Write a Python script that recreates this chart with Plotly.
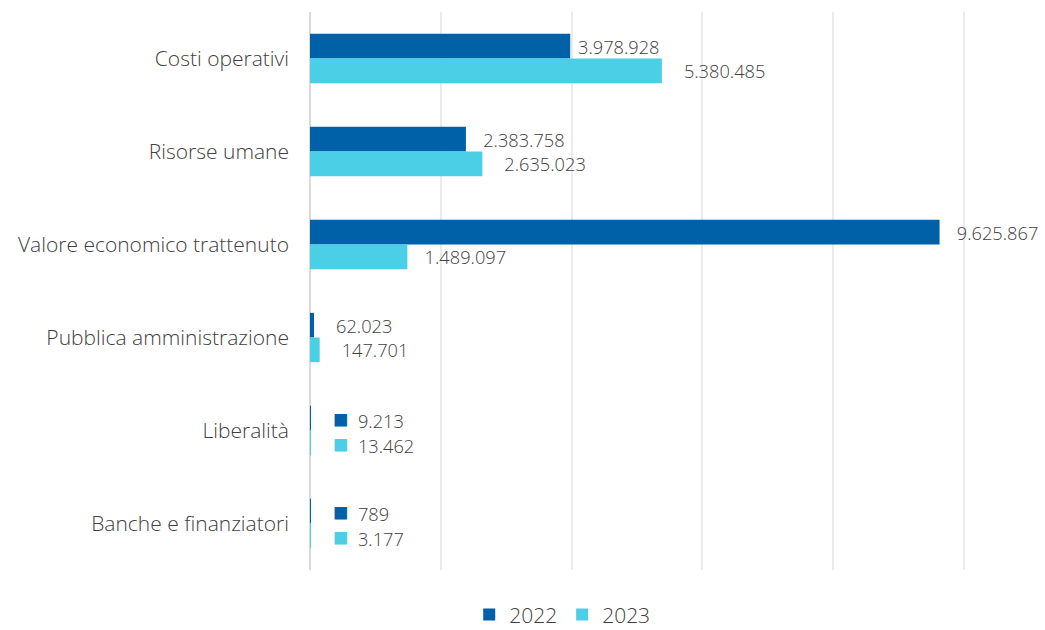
import plotly.graph_objects as go

categories = ["Costi operativi", "Risorse umane", "Valore economico trattenuto",
              "Pubblica amministrazione", "Liberalità", "Banche e finanziatori"]
values_2022 = [3978928, 2383758, 9625867, 62023, 9213, 789]
values_2023 = [5380485, 2635023, 1489097, 147701, 13462, 3177]
series_names = ["2022", "2023"]
colors = ["#0061A8", "#4ACFE6"]
x_ticks = [0, 2000000, 4000000, 6000000, 8000000, 10000000]

# label padding (number of spaces before each label), per series
pad_2022 = [1, 3, 3, 4, 4, 4]
pad_2023 = [4, 4, 3, 4, 4, 4]


def fmt(v):
    return f"{v:,}".replace(",", ".")


def labels(vals, pads, color):
    out = []
    for v, p in zip(vals, pads):
        sp = "\u00a0" * p
        if v < 50000:
            out.append(f'{sp}<span style="color:{color};font-size:26px">■</span>'
                       f'\u00a0\u00a0{fmt(v)}')
        else:
            out.append(sp + fmt(v))
    return out


fig = go.Figure()
for name, vals, pads, col in zip(series_names, [values_2022, values_2023],
                                 [pad_2022, pad_2023], colors):
    fig.add_trace(go.Bar(
        y=categories, x=vals, name=name, orientation="h",
        marker=dict(color=col, line=dict(width=0)),
        text=labels(vals, pads, col), textposition="outside", cliponaxis=False,
        textfont=dict(family="Open Sans", size=18.5, color="#404040", weight=300),
    ))

fig.update_layout(
    width=1045, height=630,
    barmode="group", bargap=0.47, bargroupgap=0,
    plot_bgcolor="white", paper_bgcolor="white",
    margin=dict(l=310, r=79, t=12, b=60),
    font=dict(family="Open Sans", size=18.5, color="#404040", weight=300),
    xaxis=dict(range=[0, 10030000], tickvals=x_ticks, showticklabels=False,
               showgrid=True, gridcolor="#EBEBEB", gridwidth=2,
               zeroline=True, zerolinecolor="#D9D9D9", zerolinewidth=2),
    yaxis=dict(autorange="reversed", showgrid=False, ticklabelstandoff=20,
               tickfont=dict(family="Open Sans", size=21, color="#404040", weight=300)),
    legend=dict(orientation="h", xref="container", x=0.538, xanchor="center",
                yref="container", y=0.024, yanchor="middle",
                font=dict(family="Open Sans", size=21, color="#404040", weight=300)),
    uniformtext=dict(mode="show", minsize=18),
)

fig.write_html("out.html", config={"displayModeBar": False},
               post_script="document.body.style.margin='0px';")
